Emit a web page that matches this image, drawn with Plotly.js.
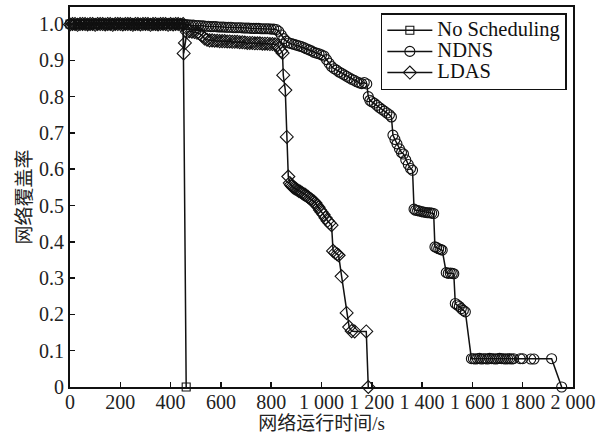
<!DOCTYPE html>
<html>
<head>
<meta charset="utf-8">
<script src="https://cdn.plot.ly/plotly-3.0.1.min.js"></script>
<style>html,body{margin:0;padding:0;background:#fff;}#chart{width:610px;height:437px;}</style>
</head>
<body>
<div id="chart"></div>
<script>
// ---------- data ----------
const seriesNames = ['No Scheduling', 'NDNS', 'LDAS'];

const noSchedTime = [
  0,10,20,30,40,50,60,70,80,90,
  100,110,120,130,140,150,160,170,180,190,
  200,210,220,230,240,250,260,270,280,290,
  300,310,320,330,340,350,360,370,380,390,
  400,410,420,430,440,450,462
];
const noSchedCov = [
  1.0,0.998,1.0,1.0,0.999,1.0,1.0,0.998,1.0,1.0,
  1.0,1.0,0.999,1.0,1.0,1.0,0.998,1.0,1.0,1.0,
  0.999,1.0,1.0,1.0,0.998,1.0,1.0,1.0,0.999,1.0,
  1.0,1.0,0.998,1.0,1.0,1.0,0.999,1.0,1.0,1.0,
  1.0,0.999,1.0,1.0,0.998,1.0,0
];

const ndnsTime = [
  0,10,20,30,40,50,60,70,80,90,
  100,110,120,130,140,150,160,170,180,190,
  200,210,220,230,240,250,260,270,280,290,
  300,310,320,330,340,350,360,370,380,390,
  400,410,420,430,440,450,460,470,480,490,
  500,510,520,530,540,550,560,570,580,590,
  600,610,620,630,640,650,660,670,680,690,
  700,710,720,730,740,750,760,770,780,790,
  800,810,820,830,840,850,860,870,880,890,
  900,910,920,930,940,950,960,970,980,990,
  1000,1010,1020,1030,1040,1050,1060,1070,1080,1090,
  1100,1110,1120,1130,1140,1150,1160,1170,1180,1186,
  1192,1200,1210,1220,1230,1240,1250,1260,1270,1278,
  1284,1292,1300,1310,1318,1326,1335,1345,1354,1362,
  1368,1374,1382,1390,1398,1406,1414,1422,1430,1438,
  1446,1451,1458,1466,1474,1480,1496,1504,1512,1520,
  1526,1532,1540,1548,1556,1564,1572,1596,1604,1612,
  1620,1628,1636,1644,1652,1660,1668,1676,1684,1692,
  1700,1708,1716,1724,1732,1740,1748,1756,1764,1790,
  1800,1832,1845,1915,1955
];
const ndnsCov = [
  1.0,1.0,0.998,1.0,1.0,0.999,1.0,1.0,0.998,1.0,
  1.0,0.999,1.0,1.0,1.0,0.998,1.0,1.0,0.999,1.0,
  1.0,1.0,0.999,1.0,1.0,1.0,0.998,1.0,1.0,1.0,
  0.999,1.0,1.0,1.0,0.998,1.0,1.0,0.999,1.0,1.0,
  1.0,1.0,0.999,1.0,1.0,0.999,0.998,0.998,0.997,0.997,
  0.996,0.996,0.995,0.995,0.994,0.994,0.993,0.993,0.993,0.992,
  0.992,0.992,0.991,0.991,0.991,0.990,0.990,0.990,0.990,0.989,
  0.989,0.989,0.988,0.988,0.988,0.988,0.987,0.987,0.987,0.987,
  0.986,0.986,0.985,0.980,0.970,0.960,0.953,0.948,0.946,0.944,
  0.942,0.940,0.938,0.935,0.932,0.929,0.926,0.922,0.920,0.918,
  0.915,0.912,0.902,0.892,0.883,0.877,0.873,0.868,0.864,0.860,
  0.856,0.852,0.848,0.845,0.841,0.838,0.836,0.839,0.835,0.800,
  0.790,0.786,0.782,0.776,0.770,0.765,0.760,0.755,0.750,0.744,
  0.694,0.682,0.670,0.656,0.646,0.642,0.626,0.613,0.602,0.597,
  0.490,0.487,0.486,0.485,0.483,0.482,0.481,0.480,0.480,0.479,
  0.478,0.386,0.384,0.381,0.379,0.377,0.315,0.313,0.314,0.313,
  0.312,0.230,0.226,0.222,0.216,0.211,0.207,0.078,0.078,0.077,
  0.078,0.079,0.077,0.078,0.078,0.077,0.079,0.078,0.078,0.077,
  0.078,0.079,0.078,0.078,0.077,0.078,0.078,0.077,0.078,0.078,
  0.078,0.077,0.077,0.078,0
];

const ldasTime = [
  0,10,20,30,40,50,60,70,80,90,
  100,110,120,130,140,150,160,170,180,190,
  200,210,220,230,240,250,260,270,280,290,
  300,310,320,330,340,350,360,370,380,390,
  400,410,420,430,440,450,452,457,465,475,
  485,495,505,515,525,535,545,555,565,575,
  585,595,605,615,625,635,645,655,665,675,
  685,695,705,715,725,735,745,755,765,775,
  785,795,805,815,825,833,840,845,848,856,
  862,868,874,878,883,888,893,898,904,910,
  916,922,928,934,940,946,952,958,964,970,
  976,982,988,994,1000,1008,1016,1024,1032,1040,
  1046,1054,1062,1068,1080,1100,1110,1120,1132,1178,
  1186
];
const ldasCov = [
  0.999,1.0,1.0,0.998,1.0,1.0,1.0,0.999,1.0,1.0,
  0.998,1.0,1.0,1.0,0.999,1.0,1.0,0.998,1.0,1.0,
  1.0,0.999,1.0,1.0,1.0,0.998,1.0,1.0,0.999,1.0,
  1.0,1.0,0.998,1.0,1.0,0.999,1.0,1.0,1.0,0.998,
  1.0,0.999,1.0,1.0,0.998,1.0,0.919,0.948,0.978,0.980,
  0.979,0.978,0.976,0.974,0.968,0.960,0.957,0.955,0.955,0.954,
  0.954,0.953,0.953,0.953,0.952,0.952,0.951,0.951,0.951,0.950,
  0.950,0.949,0.948,0.948,0.948,0.947,0.947,0.947,0.946,0.946,
  0.946,0.945,0.945,0.944,0.942,0.935,0.926,0.920,0.859,0.818,
  0.689,0.580,0.562,0.557,0.553,0.550,0.548,0.546,0.543,0.540,
  0.538,0.535,0.532,0.530,0.527,0.524,0.520,0.517,0.514,0.511,
  0.507,0.500,0.495,0.488,0.482,0.475,0.466,0.458,0.452,0.446,
  0.375,0.370,0.366,0.363,0.305,0.204,0.165,0.154,0.153,0.153,
  0
];

const xTickVals = [0,200,400,600,800,1000,1200,1400,1600,1800,2000];
const xTickText = ['0','200','400','600','800','1 000','1 200','1 400','1 600','1 800','2 000'];
const yTickVals = [0,0.1,0.2,0.3,0.4,0.5,0.6,0.7,0.8,0.9,1.0];
const yTickText = ['0','0.1','0.2','0.3','0.4','0.5','0.6','0.7','0.8','0.9','1.0'];

const xTitle = '网络运行时间/s';
const yTitle = '网络覆盖率';

// ---------- chart ----------
const serif = 'Liberation Serif, Times New Roman, serif';
const cjk = 'Liberation Serif, Noto Sans CJK SC, serif';
const ink = '#111';

function trace(name, x, y, symbol, size) {
  return {
    type: 'scatter', mode: 'lines+markers',
    name: '<span style="font-size:20.5px">' + name + '</span>',
    x: x, y: y,
    cliponaxis: false,
    line: {color: ink, width: 1.5},
    marker: {symbol: symbol, size: size, color: 'rgba(255,255,255,0)',
             line: {color: ink, width: 1.1}}
  };
}

const data = [
  trace(seriesNames[0], noSchedTime, noSchedCov, 'square', 8),
  trace(seriesNames[1], ndnsTime, ndnsCov, 'circle', 10),
  trace(seriesNames[2], ldasTime, ldasCov, 'diamond', 10)
];

const axisCommon = {
  showline: true, mirror: true, linecolor: ink, linewidth: 2,
  ticks: 'inside', ticklen: 5, tickwidth: 1.5, tickcolor: ink,
  showgrid: false, zeroline: false,
  tickfont: {family: serif, size: 20, color: '#222'}
};

const layout = {
  width: 610, height: 437,
  margin: {l: 70, r: 37, t: 7, b: 50},
  paper_bgcolor: '#fff', plot_bgcolor: '#fff',
  showlegend: true,
  legend: {
    x: 0.618, y: 0.984, xanchor: 'left', yanchor: 'top',
    bgcolor: '#fff', bordercolor: ink, borderwidth: 1.5,
    font: {family: serif, size: 14, color: '#111'},
    itemwidth: 45, tracegroupgap: 0
  },
  xaxis: Object.assign({}, axisCommon, {
    range: [0, 2000], tickmode: 'array', tickvals: xTickVals, ticktext: xTickText,
    ticklabelstandoff: -4,
    title: {text: xTitle, font: {family: cjk, size: 19, color: '#222'}, standoff: 2}
  }),
  yaxis: Object.assign({}, axisCommon, {
    range: [0, 1.047], tickmode: 'array', tickvals: yTickVals, ticktext: yTickText,
    title: {text: yTitle, font: {family: cjk, size: 19, color: '#222'}, standoff: 2}
  })
};

Plotly.newPlot('chart', data, layout, {displayModeBar: false, staticPlot: true});
</script>
</body>
</html>
